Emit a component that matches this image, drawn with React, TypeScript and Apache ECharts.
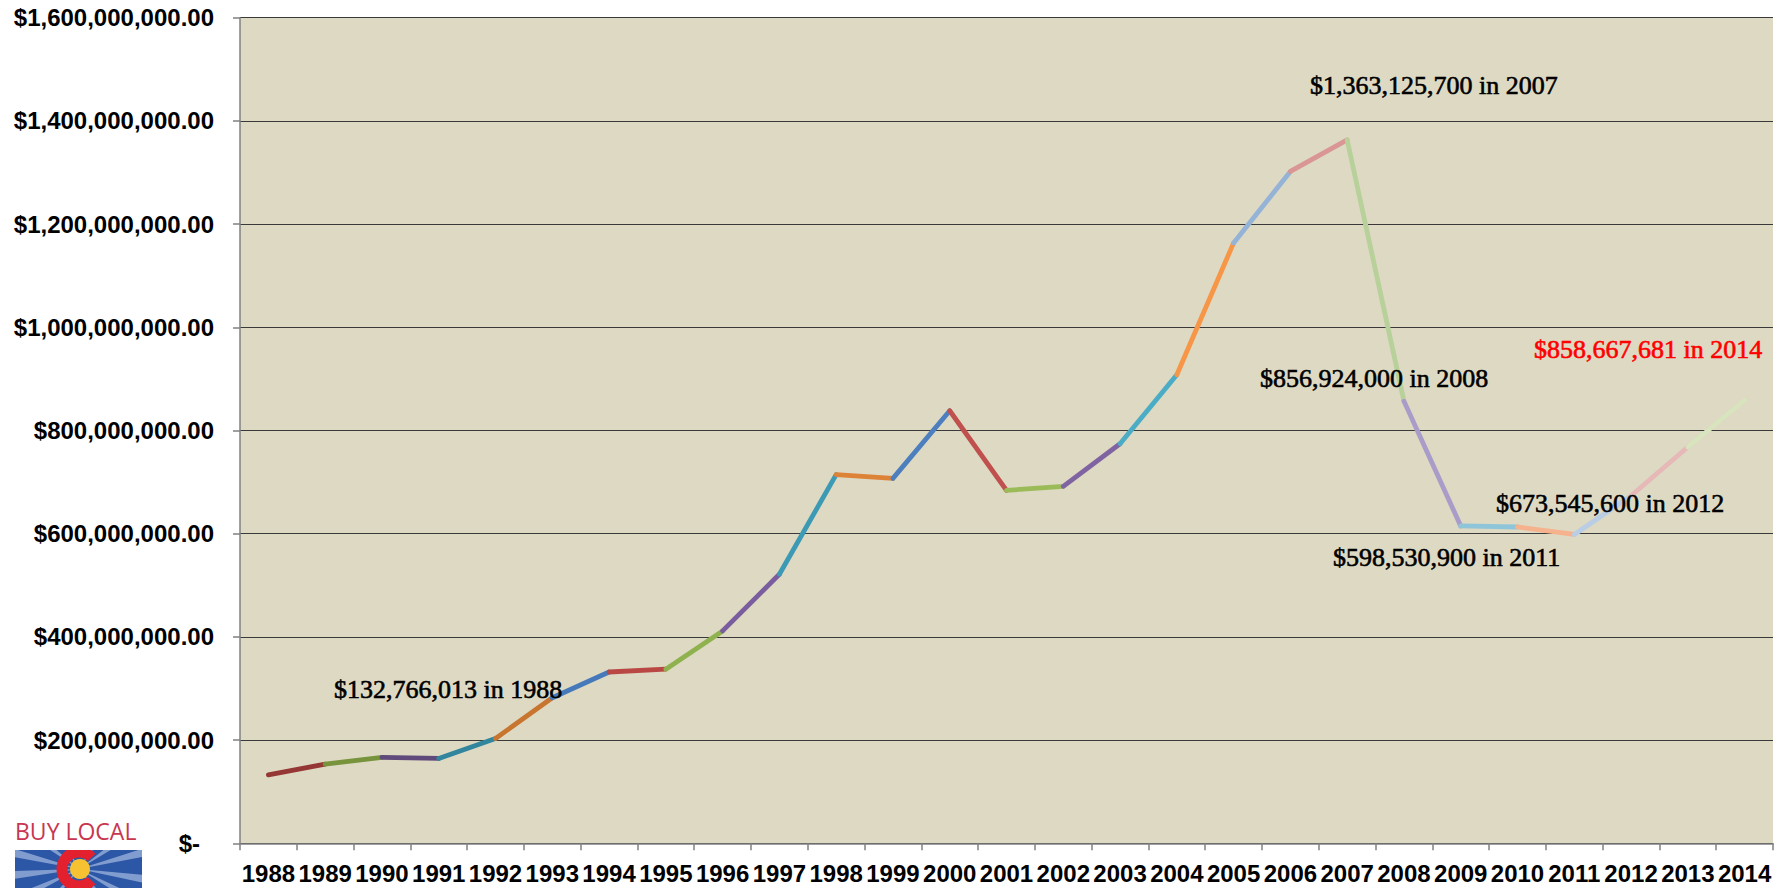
import React, { useEffect, useRef } from "react";
import * as echarts from "echarts";

const years = ["1988","1989","1990","1991","1992","1993","1994","1995","1996","1997","1998","1999","2000","2001","2002","2003","2004","2005","2006","2007","2008","2009","2010","2011","2012","2013","2014"];

const values = [132766013, 153500000, 166500000, 164500000, 203000000, 282000000, 332000000, 337500000, 411600000, 521400000, 714400000, 707300000, 838300000, 684000000, 691800000, 774400000, 908000000, 1163600000, 1302000000, 1363125700, 856924000, 615000000, 613000000, 598530900, 673545600, 768000000, 858667681];

const segmentColors = ["#953735","#77933C","#604A7B","#31859C","#C8762F","#4579BA","#B94844","#8FB24F","#7A5D9E","#3D9AB5","#DD8338","#4D7FBF","#C0504D","#9BBB59","#8064A2","#4BACC6","#F79646","#95B3D7","#D99694","#B8D19A","#AA9CC8","#8FC5D9","#F6B28C","#B9CDE5","#E6B9B8","#D7E4BD"];

const annotations = [
  { text: "$132,766,013 in 1988", x: 334, y: 689, color: "#000000" },
  { text: "$1,363,125,700 in 2007", x: 1310, y: 85, color: "#000000" },
  { text: "$858,667,681 in 2014", x: 1534, y: 349, color: "#FF0000" },
  { text: "$856,924,000 in 2008", x: 1260, y: 378, color: "#000000" },
  { text: "$673,545,600 in 2012", x: 1496, y: 503, color: "#000000" },
  { text: "$598,530,900 in 2011", x: 1333, y: 557, color: "#000000" },
];

const yMax = 1600000000;
const yInterval = 200000000;

function fmtMoney(v: number): string {
  if (v === 0) return "{z|$-}";
  return "$" + v.toLocaleString("en-US", { minimumFractionDigits: 2, maximumFractionDigits: 2 });
}

export default function App() {
  const ref = useRef<HTMLDivElement>(null);
  useEffect(() => {
    if (!ref.current) return;
    const chart = echarts.init(ref.current, null, { renderer: "svg" });

    const series = segmentColors.map((c, i) => ({
      type: "line",
      data: values.map((v, j) => (j === i || j === i + 1 ? v : null)),
      symbol: "none",
      connectNulls: false,
      lineStyle: { color: c, width: 4.8, cap: "round", join: "round" },
      z: 3,
    }));

    const cx = 79, cy = 869;
    const rays: any[] = [];
    const angles = [-2.9, -2.5, -2.1, -1.0, -0.6, -0.25, 0.15, 0.5, 2.7, 3.05, 0.9, 2.3];
    angles.forEach((a) => {
      const len = 90;
      const w = 0.06;
      rays.push({
        type: "polygon",
        shape: {
          points: [
            [cx, cy],
            [cx + Math.cos(a - w) * len, cy + Math.sin(a - w) * len],
            [cx + Math.cos(a + w) * len, cy + Math.sin(a + w) * len],
          ],
        },
        style: { fill: "rgba(200,215,240,0.55)" },
      });
    });

    const graphic: any[] = [
      ...annotations.map((a) => ({
        type: "text",
        x: a.x,
        y: a.y,
        z: 10,
        style: {
          text: a.text,
          fill: a.color,
          stroke: a.color,
          lineWidth: 0.6,
          font: "26px 'Liberation Serif', 'Times New Roman', serif",
          textVerticalAlign: "middle",
          textAlign: "left",
        },
      })),
      {
        type: "text",
        x: 15,
        y: 831,
        style: {
          text: "BUY LOCAL",
          fill: "#C8374F",
          font: "23px 'Open Sans', 'Liberation Sans', sans-serif",
          textVerticalAlign: "middle",
        },
      },
      {
        type: "group",
        clipPath: { type: "rect", shape: { x: 15, y: 850, width: 127, height: 38 } },
        children: [
          { type: "rect", shape: { x: 15, y: 850, width: 127, height: 38 }, style: { fill: "#2C56A6" } },
          ...rays,
          {
            type: "arc",
            shape: { cx, cy, r: 17, startAngle: 0.75, endAngle: Math.PI * 2 - 0.75, clockwise: true },
            style: { stroke: "#E3202E", lineWidth: 11, fill: "none" },
          },
          { type: "circle", shape: { cx: cx + 1, cy, r: 10 }, style: { fill: "#F6C232" } },
        ],
      },
    ];

    chart.setOption({
      animation: false,
      backgroundColor: "#FFFFFF",
      grid: { left: 240, right: 14, top: 17.7, bottom: 44.7, show: true, backgroundColor: "#DDD9C3", borderWidth: 0 },
      xAxis: {
        type: "category",
        data: years,
        boundaryGap: true,
        axisLine: { show: true, lineStyle: { color: "#808080", width: 1.5 } },
        axisTick: { show: true, length: 7, interval: 0, lineStyle: { color: "#808080", width: 1.5 } },
        axisLabel: {
          interval: 0,
          margin: 18,
          color: "#000000",
          fontFamily: "'Liberation Sans', Arial, sans-serif",
          fontWeight: "bold",
          fontSize: 24,
        },
        splitLine: { show: false },
      },
      yAxis: {
        type: "value",
        min: 0,
        max: yMax,
        interval: yInterval,
        axisLine: { show: true, lineStyle: { color: "#808080", width: 1.5 } },
        axisTick: { show: true, length: 7, lineStyle: { color: "#808080", width: 1.5 } },
        axisLabel: {
          margin: 26,
          color: "#000000",
          fontFamily: "'Liberation Sans', Arial, sans-serif",
          fontWeight: "bold",
          fontSize: 24,
          formatter: fmtMoney,
          rich: {
            z: {
              fontFamily: "'Liberation Sans', Arial, sans-serif",
              fontWeight: "bold",
              fontSize: 24,
              color: "#000000",
              padding: [0, 14, 0, 0],
            },
          },
        },
        splitLine: { show: true, lineStyle: { color: "#3A3A3A", width: 1.2 } },
      },
      series,
      graphic,
    });
    return () => chart.dispose();
  }, []);
  return (
    <div
      ref={ref}
      style={{ position: "absolute", left: 0, top: 0, width: "1787px", height: "888px" }}
    />
  );
}
